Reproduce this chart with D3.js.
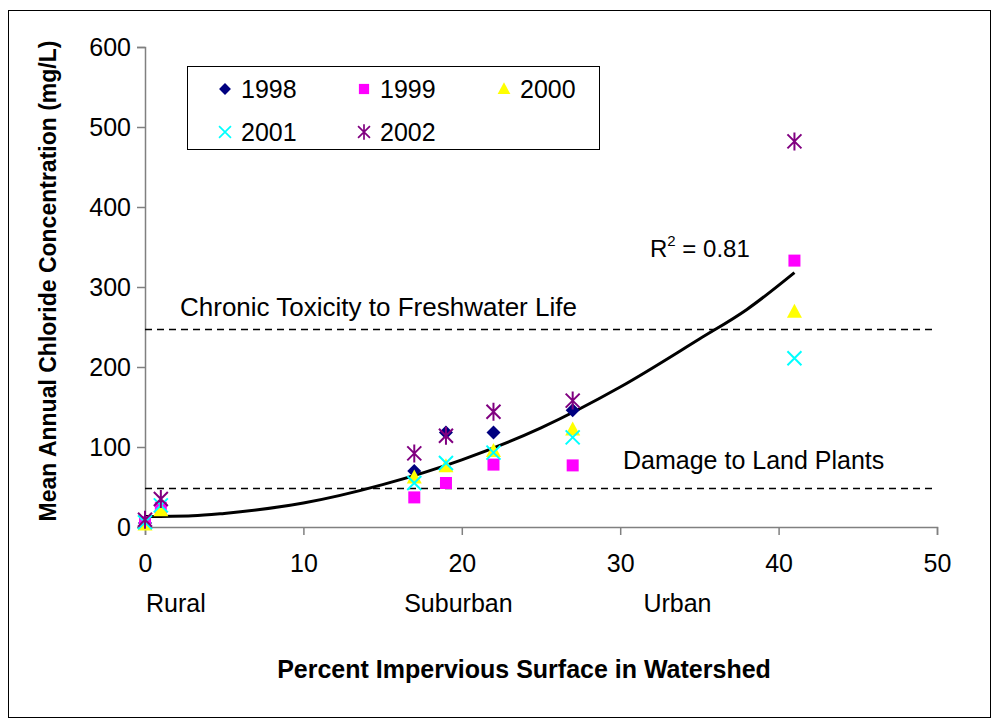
<!DOCTYPE html>
<html>
<head>
<meta charset="utf-8">
<script src="https://cdn.jsdelivr.net/npm/d3@7"></script>
<style>
  body { margin: 0; background: #fff; }
  svg { display: block; font-family: "Liberation Sans", Arial, sans-serif; }
</style>
</head>
<body>
<svg id="chart" width="1000" height="725"></svg>
<script>
// data
const years = ['1998', '1999', '2000', '2001', '2002'];
const x1998 = [0, 1, 17, 19, 22, 27];
const y1998 = [5, 27, 70, 118, 118, 146];
const x1999 = [0, 1, 17, 19, 22, 27, 41];
const y1999 = [6, 24, 37, 55, 78, 77, 333];
const x2000 = [0, 1, 17, 19, 22, 27, 41];
const y2000 = [3, 21, 62, 76, 95, 122, 269];
const x2001 = [0, 1, 17, 19, 22, 27, 41];
const y2001 = [6, 27, 55, 80, 93, 112, 211];
const x2002 = [0, 1, 17, 19, 22, 27, 41];
const y2002 = [9, 35, 92, 114, 144, 158, 482];

// trend curve (R^2 = 0.81)
const trendX = [0, 3, 5, 10, 15, 20, 25, 30, 35, 38, 41];
const trendY = [13, 14, 17, 30, 53, 84, 124, 175, 235, 272, 318];

// threshold lines
const thresholds = [
  { label: 'Chronic Toxicity to Freshwater Life', value: 247 },
  { label: 'Damage to Land Plants', value: 48 }
];

const zoneLabels = ['Rural', 'Suburban', 'Urban'];
const zoneX = [0, 16.3, 31.4];

const xTicks = [0, 10, 20, 30, 40, 50];
const yTicks = [0, 100, 200, 300, 400, 500, 600];

const series = [
  { name: years[0], xs: x1998, ys: y1998, shape: 'diamond', color: '#000080' },
  { name: years[1], xs: x1999, ys: y1999, shape: 'square', color: '#ff00ff' },
  { name: years[2], xs: x2000, ys: y2000, shape: 'triangle', color: '#ffff00' },
  { name: years[3], xs: x2001, ys: y2001, shape: 'x', color: '#00ffff' },
  { name: years[4], xs: x2002, ys: y2002, shape: 'star', color: '#800080' }
];

const svg = d3.select('#chart');

// outer frame
svg.append('rect')
  .attr('x', 8.5).attr('y', 10.5)
  .attr('width', 982).attr('height', 707)
  .attr('fill', 'none').attr('stroke', '#000').attr('stroke-width', 1);

const x = d3.scaleLinear().domain([0, 50]).range([145, 937]);
const y = d3.scaleLinear().domain([0, 600]).range([527, 47]);

// axes
const yAxis = svg.append('g')
  .attr('transform', `translate(${x(0)},0)`)
  .call(d3.axisLeft(y).tickValues(yTicks).tickSize(8).tickPadding(6));
const xAxis = svg.append('g')
  .attr('transform', `translate(0,${y(0)})`)
  .call(d3.axisBottom(x).tickValues(xTicks).tickSize(8).tickPadding(19));

[xAxis, yAxis].forEach(g => {
  g.select('.domain').attr('stroke', '#808080').attr('stroke-width', 1.5);
  g.selectAll('.tick line').attr('stroke', '#808080').attr('stroke-width', 1.5);
  g.selectAll('.tick text')
    .attr('fill', '#000')
    .style('font-size', '25px')
    .style('font-family', '"Liberation Sans", Arial, sans-serif');
});

// threshold dashed lines
thresholds.forEach(t => {
  svg.append('line')
    .attr('x1', x(0)).attr('x2', x(50))
    .attr('y1', y(t.value)).attr('y2', y(t.value))
    .attr('stroke', '#000').attr('stroke-width', 1.5)
    .attr('stroke-dasharray', '7,5');
});
svg.append('text')
  .attr('x', 180).attr('y', 316)
  .style('font-size', '26px')
  .text(thresholds[0].label);
svg.append('text')
  .attr('x', 623).attr('y', 469)
  .style('font-size', '25px')
  .text(thresholds[1].label);

// trend curve
const trendPts = trendX.map((d, i) => [d, trendY[i]]);
svg.append('path')
  .datum(trendPts)
  .attr('fill', 'none')
  .attr('stroke', '#000')
  .attr('stroke-width', 3)
  .attr('d', d3.line().x(d => x(d[0])).y(d => y(d[1])).curve(d3.curveMonotoneX));

// R^2 label
const r2 = svg.append('text')
  .attr('x', 650).attr('y', 257)
  .style('font-size', '24px');
r2.append('tspan').text('R');
r2.append('tspan').attr('dy', -11).style('font-size', '15px').text('2');
r2.append('tspan').attr('dy', 11).text(' = 0.81');

// markers
function drawMarker(g, shape, color) {
  if (shape === 'diamond') {
    g.append('path').attr('d', 'M0,-7L7,0L0,7L-7,0Z').attr('fill', color);
  } else if (shape === 'square') {
    g.append('rect').attr('x', -6).attr('y', -6).attr('width', 12).attr('height', 12).attr('fill', color);
  } else if (shape === 'triangle') {
    g.append('path').attr('d', 'M0,-8L7.5,6L-7.5,6Z').attr('fill', color);
  } else if (shape === 'x') {
    g.append('path').attr('d', 'M-7,-7L7,7M-7,7L7,-7')
      .attr('stroke', color).attr('stroke-width', 2).attr('fill', 'none');
  } else if (shape === 'star') {
    g.append('path').attr('d', 'M-7,-7L7,7M-7,7L7,-7M0,-9L0,9')
      .attr('stroke', color).attr('stroke-width', 2).attr('fill', 'none');
  }
}

series.forEach(s => {
  const pts = s.xs.map((d, i) => [d, s.ys[i]]);
  svg.append('g').selectAll('g')
    .data(pts)
    .enter()
    .append('g')
    .attr('transform', d => `translate(${x(d[0])},${y(d[1])})`)
    .each(function () { drawMarker(d3.select(this), s.shape, s.color); });
});

// legend
svg.append('rect')
  .attr('x', 187.5).attr('y', 66.5)
  .attr('width', 412).attr('height', 83)
  .attr('fill', '#fff').attr('stroke', '#000').attr('stroke-width', 1);
const legendPos = [[225, 89], [364, 89], [504, 89], [225, 132], [364, 132]];
series.forEach((s, i) => {
  const g = svg.append('g').attr('transform', `translate(${legendPos[i][0]},${legendPos[i][1]})`);
  const m = g.append('g').attr('transform', 'scale(0.85)');
  drawMarker(m, s.shape, s.color);
  g.append('text')
    .attr('x', 16).attr('y', 9)
    .style('font-size', '25px')
    .text(s.name);
});

// zone labels
zoneLabels.forEach((lbl, i) => {
  svg.append('text')
    .attr('x', x(zoneX[i]) + 1).attr('y', 612)
    .style('font-size', '25px')
    .text(lbl);
});

// axis titles
svg.append('text')
  .attr('x', 524).attr('y', 678)
  .attr('text-anchor', 'middle')
  .style('font-size', '25px').style('font-weight', 'bold')
  .text('Percent Impervious Surface in Watershed');
svg.append('text')
  .attr('transform', 'translate(56,281) rotate(-90)')
  .attr('text-anchor', 'middle')
  .style('font-size', '23px').style('font-weight', 'bold')
  .text('Mean Annual Chloride Concentration (mg/L)');
</script>
</body>
</html>
